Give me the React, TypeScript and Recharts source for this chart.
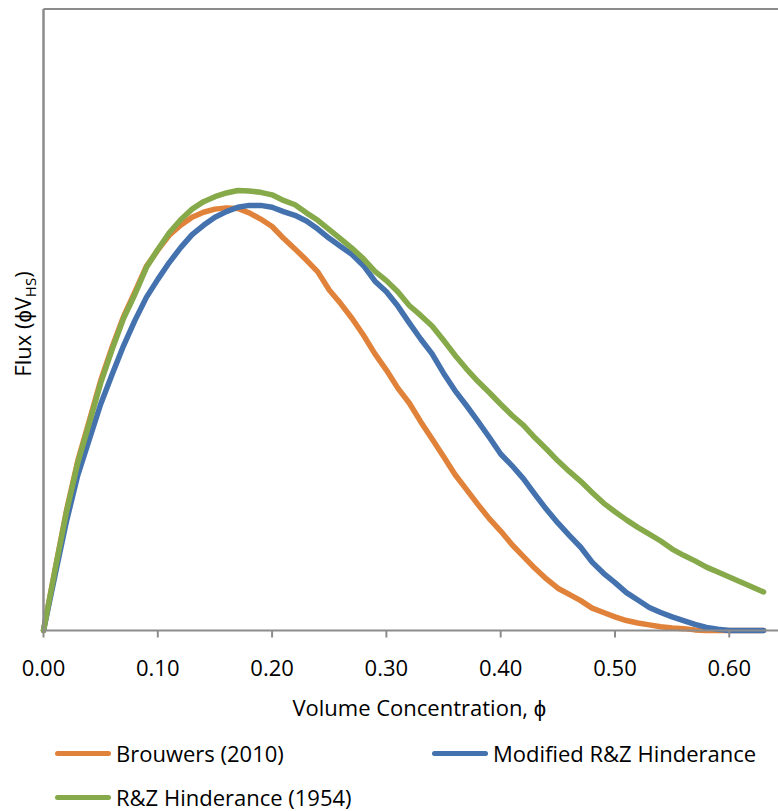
import React from 'react';
import { LineChart, Line, XAxis, YAxis, ReferenceLine, Legend, Label } from 'recharts';

// volume concentration grid
const phi = [
  0.00, 0.01, 0.02, 0.03, 0.04, 0.05, 0.06, 0.07, 0.08, 0.09,
  0.10, 0.11, 0.12, 0.13, 0.14, 0.15, 0.16, 0.17, 0.18, 0.19,
  0.20, 0.21, 0.22, 0.23, 0.24, 0.25, 0.26, 0.27, 0.28, 0.29,
  0.30, 0.31, 0.32, 0.33, 0.34, 0.35, 0.36, 0.37, 0.38, 0.39,
  0.40, 0.41, 0.42, 0.43, 0.44, 0.45, 0.46, 0.47, 0.48, 0.49,
  0.50, 0.51, 0.52, 0.53, 0.54, 0.55, 0.56, 0.57, 0.58, 0.59,
  0.60, 0.61, 0.62, 0.63,
];

const brouwers = [
  0, 0.0097, 0.0192, 0.0273, 0.0337, 0.0402, 0.0456, 0.0505, 0.0545, 0.0586,
  0.0612, 0.0636, 0.0652, 0.0665, 0.0673, 0.0678, 0.0680, 0.0679, 0.0672, 0.0662,
  0.0650, 0.0631, 0.0614, 0.0596, 0.0577, 0.0548, 0.0526, 0.0502, 0.0475, 0.0445,
  0.0419, 0.0390, 0.0366, 0.0336, 0.0308, 0.0280, 0.0251, 0.0227, 0.0203, 0.0180,
  0.0160, 0.0138, 0.0119, 0.0100, 0.0083, 0.0068, 0.0058, 0.0048, 0.0036, 0.0029,
  0.0022, 0.0016, 0.0012, 0.0009, 0.0006, 0.0004, 0.0003, 0.0001, 0, 0,
  0, 0, 0, 0,
];

const modifiedRZ = [
  0, 0.0088, 0.0175, 0.0250, 0.0307, 0.0364, 0.0412, 0.0458, 0.0499, 0.0536,
  0.0565, 0.0592, 0.0616, 0.0637, 0.0652, 0.0665, 0.0674, 0.0681, 0.0684, 0.0684,
  0.0681, 0.0674, 0.0668, 0.0659, 0.0646, 0.0631, 0.0618, 0.0605, 0.0587, 0.0562,
  0.0545, 0.0522, 0.0495, 0.0469, 0.0445, 0.0414, 0.0386, 0.0362, 0.0337, 0.0311,
  0.0284, 0.0265, 0.0244, 0.0219, 0.0195, 0.0173, 0.0153, 0.0134, 0.0110, 0.0092,
  0.0077, 0.0061, 0.0049, 0.0037, 0.0029, 0.0022, 0.0016, 0.0010, 0.0005, 0.0002,
  0, 0, 0, 0,
];

const rzHinderance = [
  0, 0.0096, 0.0190, 0.0270, 0.0333, 0.0398, 0.0452, 0.0502, 0.0541, 0.0584,
  0.0613, 0.0640, 0.0661, 0.0678, 0.0690, 0.0698, 0.0704, 0.0708, 0.0707, 0.0705,
  0.0701, 0.0692, 0.0685, 0.0672, 0.0660, 0.0645, 0.0630, 0.0615, 0.0598, 0.0578,
  0.0563, 0.0545, 0.0523, 0.0507, 0.0490, 0.0467, 0.0443, 0.0421, 0.0401, 0.0383,
  0.0364, 0.0346, 0.0330, 0.0310, 0.0292, 0.0273, 0.0256, 0.0240, 0.0222, 0.0205,
  0.0191, 0.0178, 0.0166, 0.0155, 0.0144, 0.0131, 0.0121, 0.0112, 0.0102, 0.0094,
  0.0086, 0.0078, 0.0070, 0.0062,
];

const xTicks = [0, 0.1, 0.2, 0.3, 0.4, 0.5, 0.6];

const data = phi.map((p, i) => ({
  phi: p,
  brouwers: brouwers[i],
  modified: modifiedRZ[i],
  rz: rzHinderance[i],
}));

const AXIS = '#8c8c8c';
const ORANGE = '#e0823a';
const BLUE = '#4472ae';
const GREEN = '#86a94a';
const FONT = '"Open Sans", sans-serif';

const legendItems = [
  { name: 'Brouwers (2010)', color: ORANGE, left: 55, top: 0 },
  { name: 'Modified R&Z Hinderance', color: BLUE, left: 432, top: 0 },
  { name: 'R&Z Hinderance (1954)', color: GREEN, left: 55, top: 44 },
];

function LegendBox() {
  return (
    <div style={{ position: 'relative', width: 778, height: 88 }}>
      {legendItems.map((it) => (
        <div
          key={it.name}
          style={{
            position: 'absolute', left: it.left, top: it.top, height: 44,
            display: 'flex', alignItems: 'center', whiteSpace: 'nowrap',
            fontSize: 22, color: '#000', fontFamily: FONT,
          }}
        >
          <span style={{ display: 'inline-block', width: 56, height: 5, borderRadius: 3, background: it.color, marginRight: 5 }} />
          {it.name}
        </div>
      ))}
    </div>
  );
}

function XTick(props: any) {
  const { x, payload } = props;
  return (
    <text x={x} y={676} textAnchor="middle" fontSize={22} fill="#000" fontFamily={FONT}>
      {payload.value.toFixed(2)}
    </text>
  );
}

export default function App() {
  return (
    <div style={{ position: 'absolute', left: 0, top: 0, width: 778, height: 811, overflow: 'hidden', background: '#fff', fontFamily: FONT }}>
      <LineChart width={795} height={811} data={data} margin={{ top: 9, right: 0, bottom: 0, left: 42.5 }}>
        <XAxis
          dataKey="phi"
          type="number"
          domain={[0, 0.6575]}
          ticks={xTicks}
          tick={<XTick />}
          tickSize={7}
          tickLine={{ stroke: AXIS, strokeWidth: 2 }}
          axisLine={{ stroke: AXIS, strokeWidth: 2 }}
          height={180.5}
        >
          <Label
            content={(p: any) => (
              <text x={p.viewBox.x + p.viewBox.width / 2} y={716} textAnchor="middle" fontSize={22} fill="#000" fontFamily={FONT}>
                Volume Concentration, ϕ
              </text>
            )}
          />
        </XAxis>
        <YAxis
          type="number"
          domain={[0, 0.1]}
          width={1}
          tick={false}
          tickLine={false}
          axisLine={{ stroke: AXIS, strokeWidth: 2 }}
        >
          <Label
            content={() => (
              <text x={31} y={324} transform="rotate(-90, 31, 324)" textAnchor="middle" fontSize={22} fill="#000" fontFamily={FONT}>
                Flux (ϕV<tspan fontSize={15} dy={5}>HS</tspan><tspan dy={-5}>)</tspan>
              </text>
            )}
          />
        </YAxis>
        <ReferenceLine y={0.1} stroke={AXIS} strokeWidth={2} />
        <ReferenceLine x={0} stroke={AXIS} strokeWidth={2} />
        <Legend
          layout="horizontal"
          verticalAlign="middle"
          align="center"
          content={() => <LegendBox />}
          wrapperStyle={{ position: 'absolute', left: 0, top: 731, width: 778 }}
        />
        <Line type="linear" dataKey="brouwers" name="Brouwers (2010)" stroke={ORANGE} strokeWidth={5.5} strokeLinecap="round" strokeLinejoin="round" dot={false} activeDot={false} isAnimationActive={false} />
        <Line type="linear" dataKey="modified" name="Modified R&Z Hinderance" stroke={BLUE} strokeWidth={5.5} strokeLinecap="round" strokeLinejoin="round" dot={false} activeDot={false} isAnimationActive={false} />
        <Line type="linear" dataKey="rz" name="R&Z Hinderance (1954)" stroke={GREEN} strokeWidth={5.5} strokeLinecap="round" strokeLinejoin="round" dot={false} activeDot={false} isAnimationActive={false} />
      </LineChart>
    </div>
  );
}
